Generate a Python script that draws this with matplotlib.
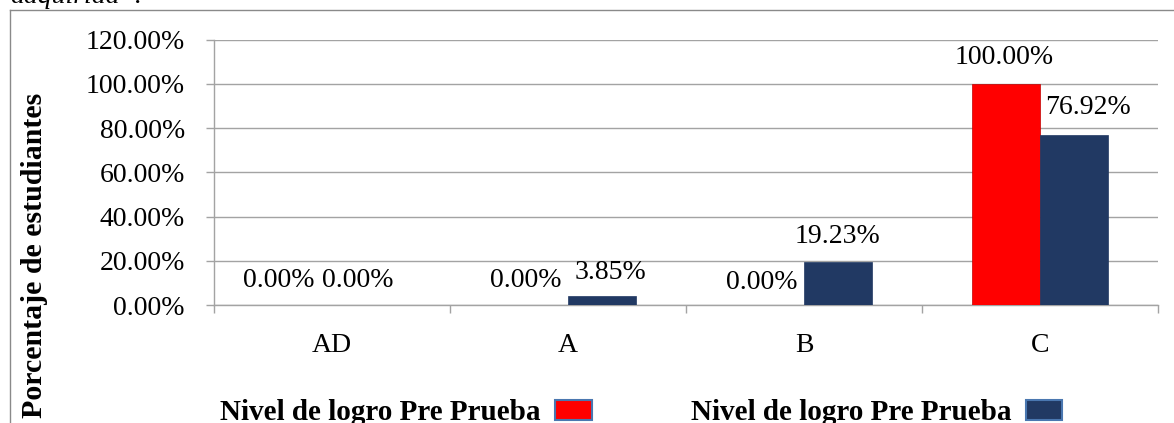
import numpy as np
import matplotlib
matplotlib.use("Agg")
import matplotlib.pyplot as plt
from matplotlib.patches import Patch
from matplotlib.lines import Line2D

plt.rcParams['font.family'] = ['Liberation Serif', 'DejaVu Serif']

# niveles de logro y porcentajes de estudiantes
categorias = ["AD", "A", "B", "C"]
serie_roja = [0.00, 0.00, 0.00, 100.00]
serie_azul = [0.00, 3.85, 19.23, 76.92]
nombres = ["Nivel de logro Pre Prueba", "Nivel de logro Pre Prueba"]
marcas_y = [0, 20, 40, 60, 80, 100, 120]

ROJO = "#ff0000"
AZUL = "#213963"
GRIS = "#a3a3a3"

W, H = 1174, 423
fig = plt.figure(figsize=(W / 100, H / 100), dpi=100)
ax = fig.add_axes([214 / W, 1 - 305 / H, (1158 - 214) / W, (305 - 39.5) / H])

x = np.arange(len(categorias))
ancho = 0.288
b1 = ax.bar(x - ancho / 2, serie_roja, ancho, color=ROJO, edgecolor="#c00000", linewidth=0.5, zorder=3)
b2 = ax.bar(x + ancho / 2, serie_azul, ancho, color=AZUL, edgecolor=AZUL, linewidth=0.5, zorder=3)

# etiquetas de datos (desplazamientos en puntos, como las coloca Excel)
desp_roja = [(-14, 18), (-6, 18), (-6, 16), (-1, 19)]
desp_azul = [(-6, 18), (6, 17), (0, 19), (10, 20)]
for barras, valores, desp in ((b1, serie_roja, desp_roja), (b2, serie_azul, desp_azul)):
    for rect, v, (dx, dy) in zip(barras, valores, desp):
        ax.annotate(f"{v:.2f}%", (rect.get_x() + rect.get_width() / 2, v),
                    xytext=(dx, dy), textcoords="offset points",
                    ha="center", va="center", fontsize=20, zorder=4)

ax.set_xlim(-0.5, len(categorias) - 0.5)
ax.set_ylim(0, 120)
ax.set_yticks(marcas_y)
ax.set_yticklabels([f"{m:.2f}%" for m in marcas_y], fontsize=20)
ax.yaxis.grid(True, color=GRIS, linewidth=1, zorder=0)
ax.tick_params(axis="y", length=6, width=1, color=GRIS, pad=15)

# marcas del eje x entre categorías, nombres en el centro
ax.set_xticks(np.arange(len(categorias) + 1) - 0.5)
ax.set_xticklabels([])
ax.set_xticks(x, minor=True)
ax.set_xticklabels(categorias, minor=True, fontsize=20)
ax.tick_params(axis="x", which="major", length=6, width=1, color=GRIS)
ax.tick_params(axis="x", which="minor", length=0, pad=20)

for lado in ("top", "right"):
    ax.spines[lado].set_visible(False)
for lado in ("left", "bottom"):
    ax.spines[lado].set_color(GRIS)
    ax.spines[lado].set_linewidth(1)

fig.text(35 / W, 1 - 255 / H, "Porcentaje de estudiantes", rotation=90,
         ha="center", va="center", fontsize=21.5, fontweight="bold")

manejadores = [Patch(facecolor=ROJO, edgecolor="#4a77b0", linewidth=1.5),
               Patch(facecolor=AZUL, edgecolor="#4a77b0", linewidth=1.5)]
ax.legend(manejadores, nombres, ncol=2, markerfirst=False, frameon=False,
          loc="lower left", bbox_to_anchor=(220 / W, -0.008), bbox_transform=fig.transFigure,
          prop={"weight": "bold", "size": 21}, handlelength=1.25, handleheight=0.65,
          handletextpad=0.5, columnspacing=3.4, borderpad=0, borderaxespad=0)

# borde del área del gráfico y texto superior recortado
fig.add_artist(Line2D([10 / W, 1], [1 - 10 / H, 1 - 10 / H], color="#8a8a8a", linewidth=1))
fig.add_artist(Line2D([10 / W, 10 / W], [0, 1 - 10 / H], color="#8a8a8a", linewidth=1))
fig.text(10 / W, 1 - 3 / H, "adquirida\u201d.", style="italic", fontsize=20, va="baseline")

fig.savefig("out.png", dpi=100)
